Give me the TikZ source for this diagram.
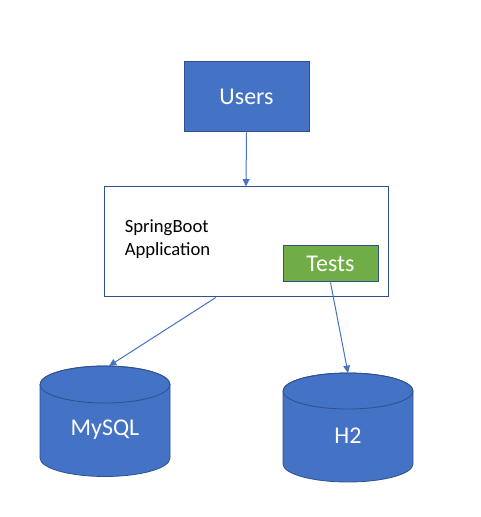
\documentclass[tikz,border=0pt]{standalone}
\usepackage{fontspec}
\setmainfont{Carlito}
\usetikzlibrary{arrows.meta,calc}
\definecolor{ublue}{HTML}{4472C4}
\definecolor{dblue}{HTML}{2F528F}
\definecolor{tgreen}{HTML}{70AD47}
\begin{document}
\begin{tikzpicture}[x=0.75pt,y=0.75pt,
  bluebox/.style={draw=dblue,line width=0.75pt,fill=ublue,text=white,font=\fontsize{18}{22}\selectfont,inner sep=0pt},
  appbox/.style={draw=dblue,line width=0.75pt,fill=white,inner sep=0pt},
  testbox/.style={draw=dblue,line width=0.75pt,fill=tgreen,text=white,font=\fontsize{18}{22}\selectfont,inner sep=0pt},
  dbbody/.style={draw=dblue,line width=0.6pt,fill=ublue},
  dblabel/.style={text=white,font=\fontsize{18}{22}\selectfont,inner sep=0pt},
  conn/.style={draw=ublue,line width=0.75pt,-{Triangle[length=5.5pt,width=5pt]}}]
\useasboundingbox (0,0) rectangle (480,517);
% Users
\node[bluebox,minimum width=125*0.75pt,minimum height=70*0.75pt] (users) at (246.5,420) {Users};
% App
\node[appbox,minimum width=284*0.75pt,minimum height=110*0.75pt] (app) at (246,275) {};
\node[anchor=west,align=left,inner sep=0pt,font=\fontsize{14}{17.25}\selectfont] (applabel) at (124.5,277.5) {SpringBoot\\Application};
% Tests
\node[testbox,minimum width=95*0.75pt,minimum height=36*0.75pt] (tests) at (330.5,253) {Tests};
% MySQL cylinder
\path[dbbody] (40,132.5) -- (40,59) arc[start angle=180,end angle=360,x radius=65,y radius=18.5] -- (170,132.5) arc[start angle=0,end angle=180,x radius=65,y radius=18.5] -- cycle;
\draw[dblue,line width=0.6pt] (105,132.5) ellipse[x radius=65,y radius=18.5];
\coordinate (mysqltop) at (109,151);
\node[dblabel] (mysql) at (105,87) {MySQL};
% H2 cylinder
\path[dbbody] (283,126) -- (283,53) arc[start angle=180,end angle=360,x radius=65,y radius=18] -- (413,126) arc[start angle=0,end angle=180,x radius=65,y radius=18] -- cycle;
\draw[dblue,line width=0.6pt] (348,126) ellipse[x radius=65,y radius=18];
\coordinate (h2top) at (348,144);
\node[dblabel] (h2) at (348,81) {H2};
% connectors
\draw[conn] (users.south) -- (app.north);
\draw[conn] ($(app.south west)!0.394!(app.south east)$) -- (mysqltop);
\draw[conn] (tests.south) -- (h2top);
\end{tikzpicture}
\end{document}
